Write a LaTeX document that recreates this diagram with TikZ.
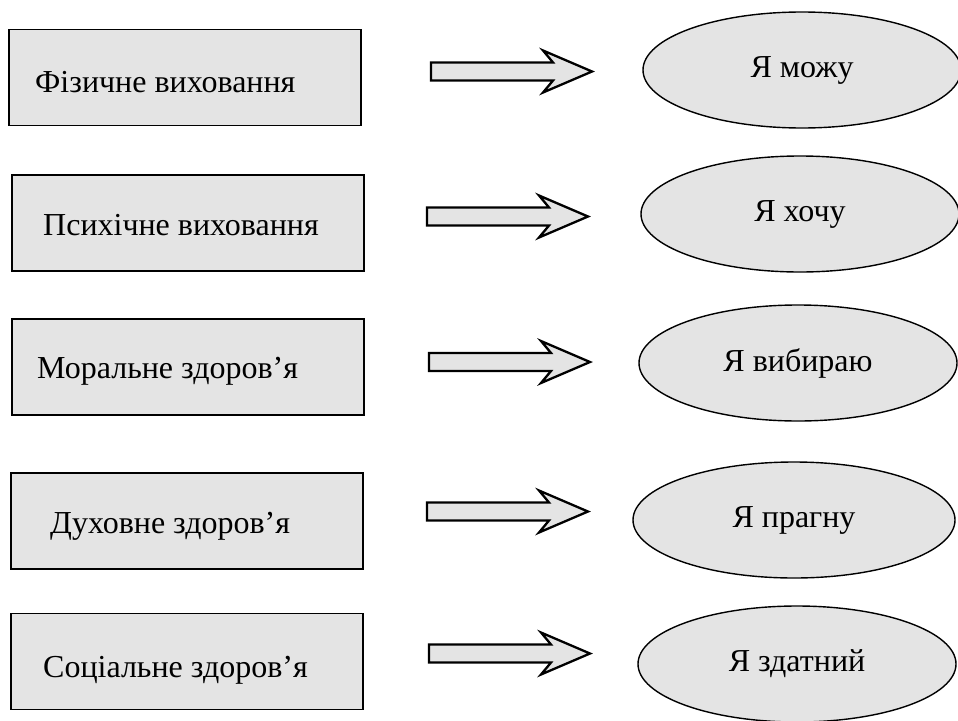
\documentclass[tikz,border=0pt]{standalone}
\usepackage{fontspec}
\setmainfont{Liberation Serif}
\usetikzlibrary{shapes.geometric}
\definecolor{boxgray}{RGB}{228,228,228}
\tikzset{
  box/.style={draw=black, line width=1.8pt, fill=boxgray, rectangle, inner sep=0pt,
              minimum width=352pt, minimum height=96pt},
  oval/.style={draw=black, line width=1.4pt, fill=boxgray, ellipse, inner sep=0pt,
               minimum width=318pt, minimum height=116pt, font=\fontsize{32}{38}\selectfont},
  lbl/.style={font=\fontsize{32}{38}\selectfont, anchor=base west, inner sep=0pt},
  fatarrow/.style={draw=black, line width=2.3pt, fill=boxgray, line join=miter},
  pics/fatarr/.style={code={
    \draw[fatarrow] (0,-9) -- (122,-9) -- (112,-21) -- (161,0) -- (112,21)
      -- (122,9) -- (0,9) -- cycle;}}
}
\begin{document}
\begin{tikzpicture}[x=1pt,y=-1pt]
\useasboundingbox (0,0) rectangle (958,720);
% boxes
\node[box] (b1) at (185,77.5) {};
\node[box] (b2) at (188,223) {};
\node[box] (b3) at (188,367) {};
\node[box] (b4) at (187,521) {};
\node[box] (b5) at (187,661.5) {};
\node[lbl] (t1) at (35,92) {Фізичне виховання};
\node[lbl] (t2) at (43,235) {Психічне виховання};
\node[lbl] (t3) at (37,378) {Моральне здоров’я};
\node[lbl] (t4) at (50,533) {Духовне здоров’я};
\node[lbl] (t5) at (43,677) {Соціальне здоров’я};
% ellipses
\node[oval] (e1) at (802,70) {Я можу};
\node[oval] (e2) at (800,214) {Я хочу};
\node[oval] (e3) at (798,363) {Я вибираю};
\node[oval, minimum width=322pt] (e4) at (794,520) {Я прагну};
\node[oval] (e5) at (797,664) {Я здатний};
% arrows
\coordinate (a1) at (431,71.5);
\coordinate (a2) at (427,216.5);
\coordinate (a3) at (429,362);
\coordinate (a4) at (427,511.5);
\coordinate (a5) at (429,653.5);
\pic at (a1) {fatarr};
\pic at (a2) {fatarr};
\pic at (a3) {fatarr};
\pic at (a4) {fatarr};
\pic at (a5) {fatarr};
\end{tikzpicture}
\end{document}
